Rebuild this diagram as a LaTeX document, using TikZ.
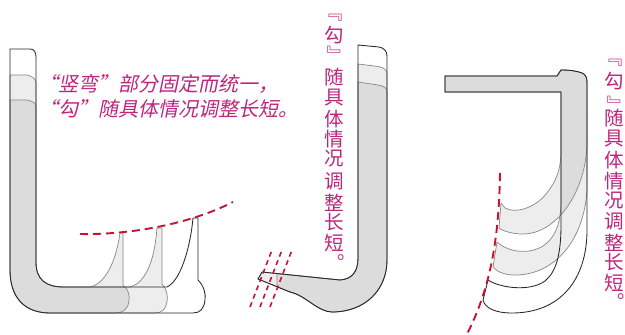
\documentclass[tikz,border=0pt]{standalone}
\usepackage{fontspec}
\newfontfamily\cjk{Noto Sans CJK SC}
\newfontfamily\cjkslant{Noto Sans CJK SC}[FakeSlant=0.2]

\definecolor{strokeink}{RGB}{40,40,40}
\definecolor{edgegray}{RGB}{135,135,135}
\definecolor{guidered}{RGB}{196,20,50}
\definecolor{notepink}{RGB}{188,38,125}

\tikzset{
  layer/.style={fill=black, fill opacity=0.072, draw=none},
  thinedge/.style={draw=edgegray, line width=0.7pt, line join=round},
  mainedge/.style={draw=strokeink, line width=0.85pt, line join=round},
  guide/.style={draw=guidered, line width=1.9pt, dash pattern=on 8pt off 5pt},
  shortguide/.style={draw=guidered, line width=1.6pt, dash pattern=on 5pt off 4pt},
  note/.style={text=notepink, inner sep=0pt, font=\cjkslant\fontsize{20}{20}\selectfont},
  vchar/.style={text=notepink, inner sep=0pt, font=\cjk\fontsize{19.5}{19.5}\selectfont},
  vbracket/.style={vchar, rotate=-90},
}

% ---------- left stroke: vertical-bend with three hook lengths ----------
\def\leftInner{(36,262) .. controls (36,280) and (46,287) .. (64,287)}
\def\leftOuter{(50,313) .. controls (25,313) and (10,298) .. (10,270) -- cycle}
\def\leftC{(10,49) -- (30,49) .. controls (34,49) and (36,52) .. (36,57) -- \leftInner
  -- (167,287) .. controls (180,281) and (190,250) .. (193,218) -- (198,218) -- (198,280)
  .. controls (204,286) and (206,294) .. (205,300) .. controls (204,309) and (200,313) .. (193,313)
  -- \leftOuter}
\def\leftB{(10,75) -- (27,75) .. controls (32,76) and (36,79) .. (36,83) -- \leftInner
  -- (130,287) .. controls (148,282) and (155,255) .. (157,228) -- (162,228) -- (162,284)
  .. controls (167,289) and (168,296) .. (167,302) .. controls (166,309) and (162,313) .. (155,313)
  -- \leftOuter}
\def\leftA{(10,100) -- (27,100) .. controls (32,101) and (36,103) .. (36,106) -- \leftInner
  -- (90,287) .. controls (108,283) and (117,255) .. (120,233) -- (123,233) -- (123,285)
  .. controls (128,289) and (130,295) .. (129,301) .. controls (128,309) and (123,313) .. (116,313)
  -- \leftOuter}

% ---------- middle stroke: vertical with a left hook ----------
\def\midRest{-- (387,260) .. controls (387,290) and (365,312) .. (332,312)
  .. controls (318,312) and (305,295) .. (290,292)}
\def\midC{(358,45) -- (379,47) .. controls (384,48) and (387,51) .. (387,56) \midRest
  -- (258,279) -- (262,272) -- (340,280) .. controls (352,279) and (358,272) .. (358,258) -- cycle}
\def\midB{(358,64) -- (378,66.5) .. controls (384,67.5) and (387,70) .. (387,74) \midRest
  -- (258,279) -- (262,272) -- (340,280) .. controls (352,279) and (358,272) .. (358,258) -- cycle}
\def\midA{(358,82) -- (378,85) .. controls (384,86) and (387,88) .. (387,92) \midRest
  -- (277,286.7) -- (277,273.5) -- (340,280) .. controls (352,279) and (358,272) .. (358,258) -- cycle}

% ---------- right stroke: horizontal-turn with hooks ----------
\def\rightTop{(445,76) -- (557,76) -- (561,70) .. controls (570,70) and (577,71) .. (582,73)
  .. controls (585,74) and (587,77) .. (587,82)}
\def\rightBase{-- (561,92) -- (445,92) -- cycle}
\def\rightC{\rightTop -- (587,230) .. controls (587,280) and (560,313) .. (512,313)
  .. controls (495,313) and (485,308) .. (483,300) -- (488,280)
  .. controls (500,288) and (530,292) .. (545,281) .. controls (556,272) and (561,255) .. (561,225)
  \rightBase}
\def\rightB{\rightTop -- (587,190) .. controls (584,240) and (555,275) .. (515,275)
  .. controls (505,275) and (497,272) .. (493,267) -- (497,242)
  .. controls (510,254) and (535,255) .. (548,242) .. controls (557,233) and (561,220) .. (561,200)
  \rightBase}
\def\rightA{\rightTop -- (587,145) .. controls (585,195) and (555,234) .. (523,234)
  .. controls (512,234) and (503,231) .. (499,228) -- (501,203) -- (505,208)
  .. controls (515,214) and (535,208) .. (546,194) .. controls (556,182) and (561,170) .. (561,150)
  \rightBase}

\begin{document}
\begin{tikzpicture}[x=1pt, y=-1pt]
\useasboundingbox[fill=white] (0,0) rectangle (625,335);

% translucent fills: one layer light grey, two layers darker grey
\fill[layer] \leftB;  \fill[layer] \leftA;
\fill[layer] \midB;   \fill[layer] \midA;
\fill[layer] \rightB; \fill[layer] \rightA;

% outlines of the shorter variants
\draw[thinedge] \leftB;  \draw[thinedge] \leftA;
\draw[thinedge] \midB;   \draw[thinedge] \midA;
\draw[thinedge] \rightB; \draw[thinedge] \rightA;

% outline of the longest variant
\draw[mainedge] \leftC;
\draw[mainedge] \midC;
\draw[mainedge] \rightC;

% dashed guides through the hook tips
\coordinate (lg-a) at (80,234);
\coordinate (lg-b) at (233,202);
\draw[guide] (lg-a) .. controls (130,235) and (190,224) .. (lg-b);

\coordinate (rg-a) at (500,173);
\coordinate (rg-b) at (466,336);
\draw[guide] (rg-a) .. controls (499,240) and (490,290) .. (rg-b);

\foreach \dx [count=\k] in {0,10,20} {
  \coordinate (mg-\k-a) at (250+\dx,307);
  \coordinate (mg-\k-b) at (272+\dx,250);
  \draw[shortguide] (mg-\k-a) -- (mg-\k-b);
}

% horizontal caption
\node[note, anchor=base west] (cap-1) at (38,91) {“竖弯”部分固定而统一，};
\node[note, anchor=base west] (cap-2) at (38,116) {“勾”随具体情况调整长短。};

% vertical captions (corner brackets turned for vertical setting)
\node[vbracket] (mid-open) at (334,12) {『};
\node[vbracket] (mid-close) at (334,55) {』};
\foreach \ch/\yy [count=\i] in {勾/35,随/77,具/97.5,体/119,情/139,况/159,调/181,整/202.5,长/222.5,短/243}
  \node[vchar] (mid-\i) at (334,\yy) {\ch};
\node[vchar] (mid-end) at (335,262.5) {︒};

\node[vbracket] (side-open) at (614,57.5) {『};
\node[vbracket] (side-close) at (614,105) {』};
\foreach \ch/\yy [count=\i] in {勾/81.5,随/118,具/139,体/160,情/181,况/201,调/221.5,整/242.5,长/262.5,短/283}
  \node[vchar] (side-\i) at (614,\yy) {\ch};
\node[vchar] (side-end) at (615,302) {︒};
\end{tikzpicture}
\end{document}
